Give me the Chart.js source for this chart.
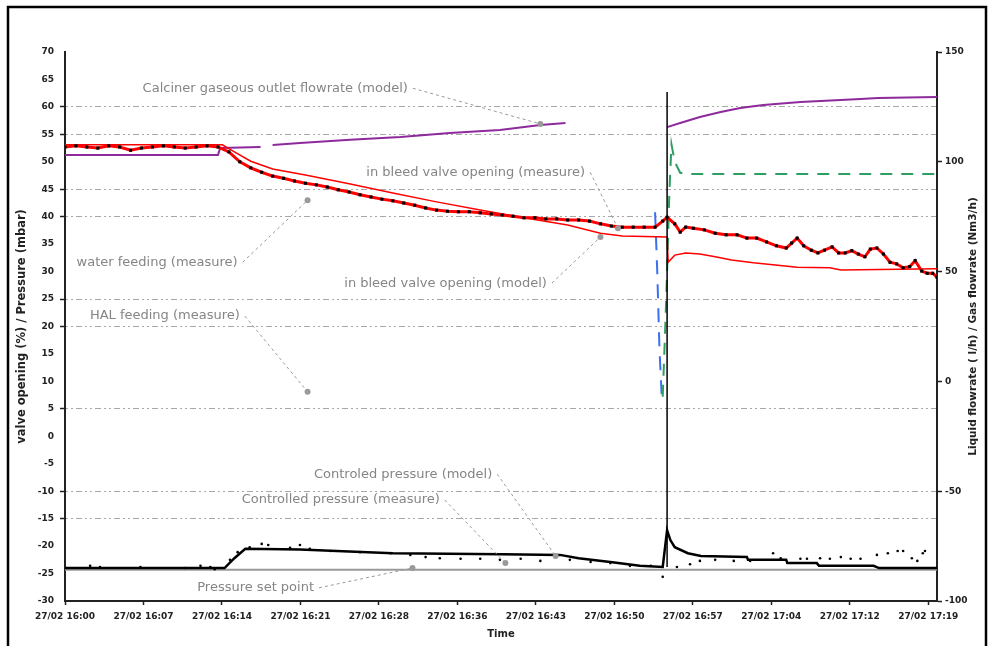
<!DOCTYPE html>
<html>
<head>
<meta charset="utf-8">
<title>In bleed valve / controlled pressure</title>
<script src="https://cdn.jsdelivr.net/npm/chart.js@4.4.1/dist/chart.umd.min.js"></script>
<style>
  html, body { margin: 0; padding: 0; background: #fff; }
  #wrap { width: 1000px; height: 646px; }
</style>
</head>
<body>
<div id="wrap"><canvas id="chart" width="1000" height="646"></canvas></div>
<script>
'use strict';

// x = minutes after 27/02 16:00
const timeMax = 79.8;
const timeLabels = ['27/02 16:00', '27/02 16:07', '27/02 16:14', '27/02 16:21',
  '27/02 16:28', '27/02 16:36', '27/02 16:43', '27/02 16:50', '27/02 16:57',
  '27/02 17:04', '27/02 17:12', '27/02 17:19'];
const tickStep = 79 / 11;

// left axis gridlines that are drawn in the original
const leftGridValues = [60, 55, 45, 40, 25, 20, 5, -10, -15];

const leftTitle = 'valve opening (%) / Pressure (mbar)';
const rightTitle = 'Liquid flowrate ( l/h) / Gas flowrate (Nm3/h)';

// in bleed valve opening (measure), %
const bleedMeasT = [0, 1, 2, 3, 4, 5, 6, 7, 8, 9, 10, 11, 12, 13, 14,
  15, 16, 17, 18, 19, 20, 21, 22, 23, 24, 25, 26, 27, 28, 29, 30, 31, 32, 33, 34,
  35, 36, 37, 38, 39, 40, 41, 42, 43, 44, 45, 46, 47, 48, 49, 50, 51, 52, 53, 54,
  54.7, 55.1, 55.8, 56.3, 56.8, 57.5, 58.5, 59.5, 60.5, 61.5,
  62.4, 63.3, 64.2, 65.1, 66.0, 66.5, 67.0, 67.6, 68.3, 68.9,
  69.5, 70.2, 70.8, 71.4, 72.0, 72.6, 73.2, 73.7, 74.3, 74.9,
  75.5, 76.1, 76.7, 77.3, 77.8, 78.4, 78.9, 79.4, 79.8];
const bleedMeasV = [52.7, 52.9, 52.7, 52.5, 52.9, 52.7, 52.1, 52.5, 52.7, 52.9, 52.7, 52.5, 52.7, 52.9, 52.7,
  51.8, 50.0, 48.9, 48.1, 47.4, 47.0, 46.5, 46.1, 45.8, 45.4,
  44.9, 44.5, 44.0, 43.6, 43.2, 42.9, 42.5, 42.1, 41.6, 41.2,
  41.0, 40.9, 40.9, 40.7, 40.5, 40.3, 40.1, 39.8, 39.8, 39.6,
  39.6, 39.4, 39.4, 39.2, 38.7, 38.3, 38.1, 38.1, 38.1, 38.1,
  39.2, 39.9, 38.7, 37.2, 38.1, 37.9, 37.6, 37.0, 36.7, 36.7,
  36.1, 36.1, 35.4, 34.7, 34.3, 35.2, 36.1, 34.7, 33.9, 33.4,
  33.9, 34.5, 33.4, 33.4, 33.8, 33.2, 32.7, 34.1, 34.3, 33.2,
  31.7, 31.4, 30.7, 30.9, 32.0, 30.1, 29.7, 29.7, 29.0];

// in bleed valve opening (model), %
const bleedModelT = [0, 14.4, 15.5, 17, 19, 22, 26, 30, 34, 38, 42, 46, 49, 51, 55.1,
  55.2, 55.8, 56.8, 58.1, 59.5, 61, 63, 65, 67, 70, 71, 79.8];
const bleedModelV = [53.1, 53.1, 51.8, 50.1, 48.7, 47.6, 46.0, 44.3, 42.7, 41.2, 39.8, 38.5, 37.0, 36.5, 36.3,
  31.7, 33.0, 33.4, 33.2, 32.7, 32.1, 31.6, 31.2, 30.8, 30.7, 30.3, 30.5];

// controlled pressure (model), mbar
const pModelT = [0, 14.6, 15.5, 16.5, 21.5, 26, 30, 35, 40, 45.3, 47, 49.9, 52.6, 54.7,
  55.1, 55.4, 55.8, 57, 58.2, 62.4, 62.5, 66, 66.1, 68.8, 69, 74, 74.5, 79.8];
const pModelV = [-24.0, -24.0, -22.2, -20.5, -20.6, -21.0, -21.3, -21.4, -21.5, -21.6, -22.2, -22.9, -23.6, -23.8,
  -17.1, -18.9, -20.2, -21.3, -21.8, -22.0, -22.5, -22.5, -23.1, -23.1, -23.6, -23.6, -24.0, -24.0];

// controlled pressure (measure), mbar
const pMeasT = [2.3, 3.2, 6.9, 11.0, 12.4, 13.3, 13.7, 15.1, 15.8, 16.9, 18.0, 18.6, 20.6, 21.5,
  22.4, 24.3, 27.0, 29.8, 31.6, 33.0, 34.3, 36.2, 38.0, 39.8, 41.7, 43.5, 46.2, 48.1,
  49.9, 51.7, 53.6, 54.7, 56.0, 57.2, 58.1, 59.5, 61.2, 62.7, 64.8, 65.5, 67.3, 67.9,
  69.1, 70.0, 71.0, 71.9, 72.8, 74.3, 75.3, 76.2, 76.7, 77.5, 78.0, 78.5, 78.7];
const pMeasV = [-23.6, -23.8, -23.8, -24.0, -23.6, -23.8, -24.2, -22.5, -21.1, -20.2, -19.6, -19.8, -20.3, -19.8,
  -20.5, -20.9, -21.1, -21.3, -21.6, -22.0, -22.2, -22.3, -22.3, -22.5, -22.3, -22.7, -22.5, -22.9,
  -23.1, -23.6, -23.6, -25.6, -23.8, -23.3, -22.7, -22.5, -22.7, -22.7, -21.3, -22.2, -22.3, -22.3,
  -22.2, -22.3, -22.0, -22.3, -22.3, -21.6, -21.3, -20.9, -20.9, -22.2, -22.7, -21.3, -20.9];

// pressure set point, mbar
const setPointT = [0, 79.8];
const setPointV = [-24.3, -24.3];

// switch-over marker
const eventT = [55.1, 55.1];
const eventV = [-23.8, 62.7];

// calciner gaseous outlet flowrate (model), Nm3/h (right axis), null = gap
const calcinerT = [0, 14.0, 14.2, 17.9, 18.0, 19.0, 21.5, 26.1, 30.7, 35.2, 39.8, 43.5, 45.8, 46.0,
  55.1, 56.3, 58.1, 60.0, 61.8, 63.9, 67.3, 72.8, 74.4, 79.8];
const calcinerV = [103.1, 103.1, 106.3, 106.7, null, 107.6, 108.6, 110.0, 111.3, 113.1, 114.5, 116.8, 117.7, null,
  115.8, 117.7, 120.4, 122.7, 124.5, 125.9, 127.2, 128.6, 129.1, 129.5];

// HAL feeding (measure), l/h (right axis)
const halT = [54.7, 54.9, 55.1, 55.3, 55.5, 55.8, 56.3, 57.0, 62, 68, 74, 79.8];
const halV = [-7, 20, 50, 85, 108, 100, 95, 94.4, 94.4, 94.4, 94.4, 94.4];

// water feeding (measure), l/h (right axis)
const waterT = [54.0, 54.2, 54.4, 54.6];
const waterV = [77, 50, 15, -6];

// text labels with leader lines, anchored in (minutes, left axis value)
const notes = [
  { text: 'Calciner gaseous outlet flowrate (model)', t: 7.1, v: 63.4, align: 'left', dotT: 43.5, dotV: 56.9 },
  { text: 'in bleed valve opening (measure)', t: 47.6, v: 48.1, align: 'right', dotT: 50.6, dotV: 37.9 },
  { text: 'water feeding (measure)', t: 15.8, v: 31.7, align: 'right', dotT: 22.2, dotV: 43.0 },
  { text: 'in bleed valve opening (model)', t: 44.1, v: 27.9, align: 'right', dotT: 49.0, dotV: 36.3 },
  { text: 'HAL feeding (measure)', t: 16.0, v: 21.9, align: 'right', dotT: 22.2, dotV: 8.1 },
  { text: 'Controled pressure (model)', t: 39.1, v: -6.9, align: 'right', dotT: 44.9, dotV: -21.8 },
  { text: 'Controlled pressure (measure)', t: 34.3, v: -11.6, align: 'right', dotT: 40.3, dotV: -23.1 },
  { text: 'Pressure set point', t: 12.1, v: -27.6, align: 'left', dotT: 31.8, dotV: -24.0 }
];

function toPoints(ts, vs) {
  return ts.map(function (t, i) {
    return { x: t, y: vs[i] };
  });
}

const decorPlugin = {
  id: 'decor',
  afterDraw: function (chart) {
    const ctx = chart.ctx;
    const sx = chart.scales.x;
    const sy = chart.scales.y;
    const area = chart.chartArea;

    ctx.save();
    // outer frame
    ctx.strokeStyle = '#000';
    ctx.lineWidth = 2.5;
    ctx.beginPath();
    ctx.moveTo(8, 660);
    ctx.lineTo(8, 7);
    ctx.lineTo(986, 7);
    ctx.lineTo(986, 660);
    ctx.stroke();

    // right axis title, reading bottom to top
    ctx.save();
    ctx.translate(973, (area.top + area.bottom) / 2);
    ctx.rotate(-Math.PI / 2);
    ctx.font = 'bold 10.5px "DejaVu Sans"';
    ctx.fillStyle = '#222';
    ctx.textAlign = 'center';
    ctx.textBaseline = 'middle';
    ctx.fillText(rightTitle, 0, 0);
    ctx.restore();

    // annotations
    ctx.font = '13px "DejaVu Sans"';
    ctx.textBaseline = 'middle';
    notes.forEach(function (n) {
      const px = sx.getPixelForValue(n.t);
      const py = sy.getPixelForValue(n.v);
      const w = ctx.measureText(n.text).width;
      ctx.fillStyle = '#858585';
      ctx.textAlign = n.align;
      ctx.fillText(n.text, px, py);

      const startX = n.align === 'left' ? px + w + 5 : px + 5;
      const dx = sx.getPixelForValue(n.dotT);
      const dy = sy.getPixelForValue(n.dotV);
      ctx.strokeStyle = '#9a9a9a';
      ctx.lineWidth = 1;
      ctx.setLineDash([3, 3]);
      ctx.beginPath();
      ctx.moveTo(startX, py);
      ctx.lineTo(dx, dy);
      ctx.stroke();
      ctx.setLineDash([]);
      ctx.fillStyle = '#9a9a9a';
      ctx.beginPath();
      ctx.arc(dx, dy, 3, 0, Math.PI * 2);
      ctx.fill();
    });
    ctx.restore();
  }
};

const tickFont = { family: 'DejaVu Sans', size: 9, weight: 'bold' };

new Chart(document.getElementById('chart').getContext('2d'), {
  type: 'line',
  data: {
    datasets: [
      {
        label: 'event',
        data: toPoints(eventT, eventV),
        borderColor: '#000',
        borderWidth: 1.5,
        pointRadius: 0,
        yAxisID: 'y'
      },
      {
        label: 'in bleed valve opening (measure)',
        data: toPoints(bleedMeasT, bleedMeasV),
        borderColor: '#ff0000',
        borderWidth: 3,
        pointStyle: 'rect',
        pointRadius: 2.2,
        pointBackgroundColor: '#000',
        pointBorderColor: '#000',
        pointBorderWidth: 0,
        yAxisID: 'y'
      },
      {
        label: 'in bleed valve opening (model)',
        data: toPoints(bleedModelT, bleedModelV),
        borderColor: '#ff0000',
        borderWidth: 1.5,
        pointRadius: 0,
        yAxisID: 'y'
      },
      {
        label: 'Controlled pressure (measure)',
        data: toPoints(pMeasT, pMeasV),
        showLine: false,
        pointRadius: 1.3,
        pointBackgroundColor: '#000',
        pointBorderWidth: 0,
        yAxisID: 'y'
      },
      {
        label: 'Controled pressure (model)',
        data: toPoints(pModelT, pModelV),
        borderColor: '#000',
        borderWidth: 2.5,
        pointRadius: 0,
        yAxisID: 'y'
      },
      {
        label: 'Calciner gaseous outlet flowrate (model)',
        data: toPoints(calcinerT, calcinerV),
        borderColor: '#8e2a9c',
        borderWidth: 2,
        pointRadius: 0,
        spanGaps: false,
        yAxisID: 'y1'
      },
      {
        label: 'HAL feeding (measure)',
        data: toPoints(halT, halV),
        borderColor: '#2f9e63',
        borderWidth: 2,
        borderDash: [12, 9],
        pointRadius: 0,
        yAxisID: 'y1'
      },
      {
        label: 'water feeding (measure)',
        data: toPoints(waterT, waterV),
        borderColor: '#3a6ff0',
        borderWidth: 2,
        borderDash: [14, 10],
        pointRadius: 0,
        yAxisID: 'y1'
      },
      {
        label: 'Pressure set point',
        data: toPoints(setPointT, setPointV),
        borderColor: '#9a9a9a',
        borderWidth: 2,
        pointRadius: 0,
        yAxisID: 'y'
      }
    ]
  },
  options: {
    responsive: false,
    animation: false,
    layout: { padding: { top: 52, left: 0, right: 0, bottom: 0 } },
    elements: { line: { tension: 0 } },
    plugins: {
      legend: { display: false },
      tooltip: { enabled: false }
    },
    scales: {
      x: {
        type: 'linear',
        min: 0,
        max: timeMax,
        afterBuildTicks: function (scale) {
          scale.ticks = timeLabels.map(function (l, i) {
            return { value: i * tickStep };
          });
        },
        afterFit: function (scale) { scale.height = 45; },
        ticks: {
          autoSkip: false,
          maxRotation: 0,
          padding: 6,
          color: '#222',
          font: tickFont,
          callback: function (value, index) { return timeLabels[index]; }
        },
        grid: {
          drawOnChartArea: false,
          tickLength: 4,
          tickColor: '#222',
          tickWidth: 1.5
        },
        border: { color: '#222', width: 2 },
        title: {
          display: true,
          text: 'Time',
          color: '#222',
          font: { family: 'DejaVu Sans', size: 10, weight: 'bold' },
          padding: { top: 0, bottom: 6 }
        }
      },
      y: {
        position: 'left',
        min: -30,
        max: 70,
        afterFit: function (scale) { scale.width = 65; },
        ticks: {
          stepSize: 5,
          padding: 6,
          color: '#222',
          font: tickFont
        },
        grid: {
          color: function (c) {
            return c.tick && leftGridValues.indexOf(c.tick.value) >= 0 ? '#a8a8a8' : 'rgba(0,0,0,0)';
          },
          tickColor: function (c) {
            return c.tick && leftGridValues.indexOf(c.tick.value) >= 0 ? '#222' : 'rgba(0,0,0,0)';
          },
          lineWidth: 1,
          tickLength: 5,
          tickWidth: 1.5
        },
        border: { color: '#222', width: 2, dash: [2, 3, 2, 3, 6, 3] },
        title: {
          display: true,
          text: leftTitle,
          color: '#222',
          font: { family: 'DejaVu Sans', size: 11.5, weight: 'bold' },
          padding: { top: 15, bottom: 0 }
        }
      },
      y1: {
        position: 'right',
        min: -100,
        max: 150,
        afterFit: function (scale) { scale.width = 63; },
        ticks: {
          stepSize: 50,
          padding: 3,
          color: '#222',
          font: tickFont
        },
        grid: {
          drawOnChartArea: false,
          tickLength: 5,
          tickColor: '#222',
          tickWidth: 1.5
        },
        border: { color: '#222', width: 2 }
      }
    }
  },
  plugins: [decorPlugin]
});
</script>
</body>
</html>
